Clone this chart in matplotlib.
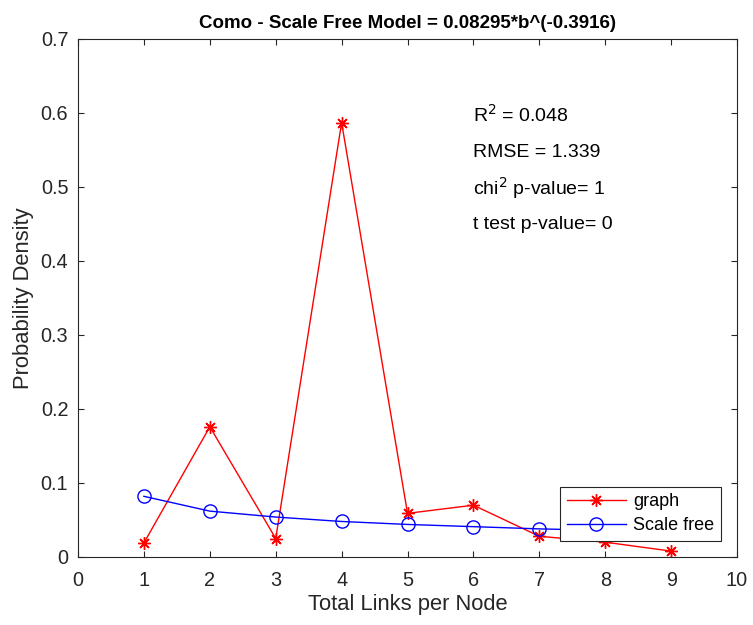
import matplotlib.pyplot as plt

plt.rcParams['font.family'] = ['Liberation Sans', 'DejaVu Sans']

links = [1, 2, 3, 4, 5, 6, 7, 8, 9]
graph_density = [0.019, 0.176, 0.025, 0.587, 0.059, 0.070, 0.028, 0.020, 0.008]
scale_free = [0.082, 0.062, 0.054, 0.048, 0.044, 0.041, 0.038, 0.036, 0.035]

stats_lines = ['R$^2$ = 0.048', 'RMSE = 1.339', 'chi$^2$ p-value= 1', 't test p-value= 0']
stats_y = [0.597, 0.547, 0.499, 0.449]

fig = plt.figure(figsize=(7.53, 6.25), dpi=100)
ax = fig.add_axes([0.1036, 0.1088, 0.8752, 0.8288])

# matlab style asterisk marker (8 spokes)
ax.plot(links, graph_density, color='#ff0000', marker=(8, 2, 0), markersize=9,
        markeredgewidth=1, linewidth=1, label='graph')
ax.plot(links, scale_free, color='#0000ff', marker='o', markersize=9.5,
        markerfacecolor='none', linewidth=1, label='Scale free')

for s, y in zip(stats_lines, stats_y):
    ax.text(5.99, y, s, fontsize=14, va='center', ha='left')

ax.set_xlim(0, 10)
ax.set_ylim(0, 0.7)
ax.set_xticks(range(0, 11))
ax.set_yticks([0, 0.1, 0.2, 0.3, 0.4, 0.5, 0.6, 0.7])
ax.set_yticklabels(['0', '0.1', '0.2', '0.3', '0.4', '0.5', '0.6', '0.7'])
ax.tick_params(direction='in', top=True, right=True, labelsize=14.3,
               colors='#262626', length=4.5)
ax.tick_params(axis='x', pad=10)
ax.tick_params(axis='y', pad=7)
for sp in ax.spines.values():
    sp.set_color('#262626')
    sp.set_linewidth(0.8)

ax.set_xlabel('Total Links per Node', fontsize=15.8, color='#262626', labelpad=3)
ax.set_ylabel('Probability Density', fontsize=15.8, color='#262626', labelpad=5)
ax.set_title('Como - Scale Free Model = 0.08295*b^(-0.3916)', fontsize=13.5,
             fontweight='bold', pad=8)

leg = ax.legend(loc='lower right', fontsize=13, fancybox=False,
                edgecolor='#262626', framealpha=1, handlelength=3.3,
                borderaxespad=0.9, borderpad=0.35, labelspacing=0.4,
                handletextpad=0.4)
leg.get_frame().set_linewidth(0.8)

fig.savefig('out.png', dpi=100)
